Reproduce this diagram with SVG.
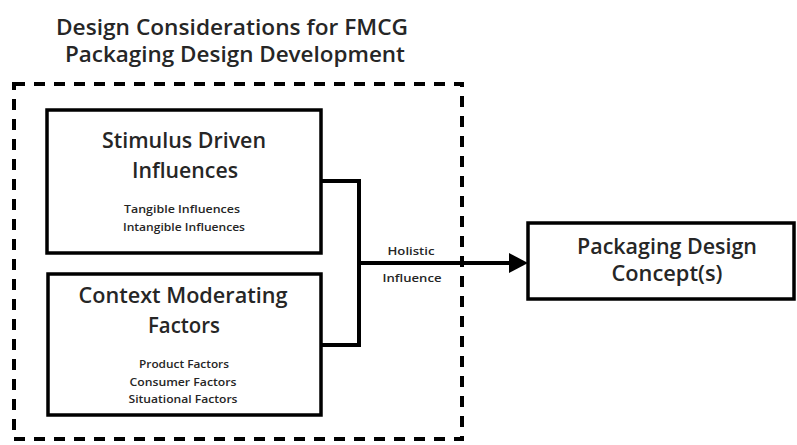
<svg xmlns="http://www.w3.org/2000/svg" width="797" height="445" viewBox="0 0 797 445">
  <defs>
    <style>
      text { font-family: "Open Sans", "Liberation Sans", sans-serif; font-weight: 600; fill: #262626; text-anchor: middle; }
      .title { font-size: 22px; }
      .head { font-size: 21px; }
      .item { font-size: 10.5px; }
      .label { font-size: 11.5px; }
      .box { fill: #fff; stroke: #000; stroke-width: 3.5; }
      .frame { fill: none; stroke: #000; stroke-width: 4; stroke-dasharray: 11 9; }
      .wire { fill: none; stroke: #000; stroke-width: 4; }
    </style>
  </defs>
  <rect width="797" height="445" fill="#fff"/>

  <!-- title above the grouping frame -->
  <g id="title">
    <text class="title" x="232" y="35" textLength="352" lengthAdjust="spacingAndGlyphs">Design Considerations for FMCG</text>
    <text class="title" x="235" y="62" textLength="340" lengthAdjust="spacingAndGlyphs">Packaging Design Development</text>
  </g>

  <!-- dashed grouping frame -->
  <g id="frame">
    <rect class="frame" x="14" y="84" width="448" height="355"/>
  </g>

  <!-- connectors: both inputs merge into one arrow -->
  <g id="connectors">
    <polyline class="wire" points="321,181 359,181 359,345 321,345"/>
    <line class="wire" x1="357" y1="263" x2="512" y2="263"/>
    <path d="M509,253 L528,263 L509,273 Z" fill="#000"/>
    <text class="label" x="411" y="255" textLength="47" lengthAdjust="spacingAndGlyphs">Holistic</text>
    <text class="label" x="412" y="282" textLength="59" lengthAdjust="spacingAndGlyphs">Influence</text>
  </g>

  <g id="stimulus">
    <rect class="box" x="47" y="110" width="274" height="143"/>
    <text class="head" x="184" y="148" textLength="164" lengthAdjust="spacingAndGlyphs">Stimulus Driven</text>
    <text class="head" x="185" y="178" textLength="106" lengthAdjust="spacingAndGlyphs">Influences</text>
    <text class="item" x="182" y="213" textLength="116" lengthAdjust="spacingAndGlyphs">Tangible Influences</text>
    <text class="item" x="184" y="231" textLength="122" lengthAdjust="spacingAndGlyphs">Intangible Influences</text>
  </g>

  <g id="context">
    <rect class="box" x="48" y="274" width="273" height="141"/>
    <text class="head" x="183" y="303" textLength="209" lengthAdjust="spacingAndGlyphs">Context Moderating</text>
    <text class="head" x="184" y="333" textLength="72" lengthAdjust="spacingAndGlyphs">Factors</text>
    <text class="item" x="184" y="368" textLength="90" lengthAdjust="spacingAndGlyphs">Product Factors</text>
    <text class="item" x="183" y="386" textLength="107" lengthAdjust="spacingAndGlyphs">Consumer Factors</text>
    <text class="item" x="183" y="403" textLength="109" lengthAdjust="spacingAndGlyphs">Situational Factors</text>
  </g>

  <g id="concept">
    <rect class="box" x="528" y="223" width="266" height="76"/>
    <text class="head" x="667" y="254" textLength="180" lengthAdjust="spacingAndGlyphs">Packaging Design</text>
    <text class="head" x="667" y="281" textLength="111" lengthAdjust="spacingAndGlyphs">Concept(s)</text>
  </g>
</svg>
